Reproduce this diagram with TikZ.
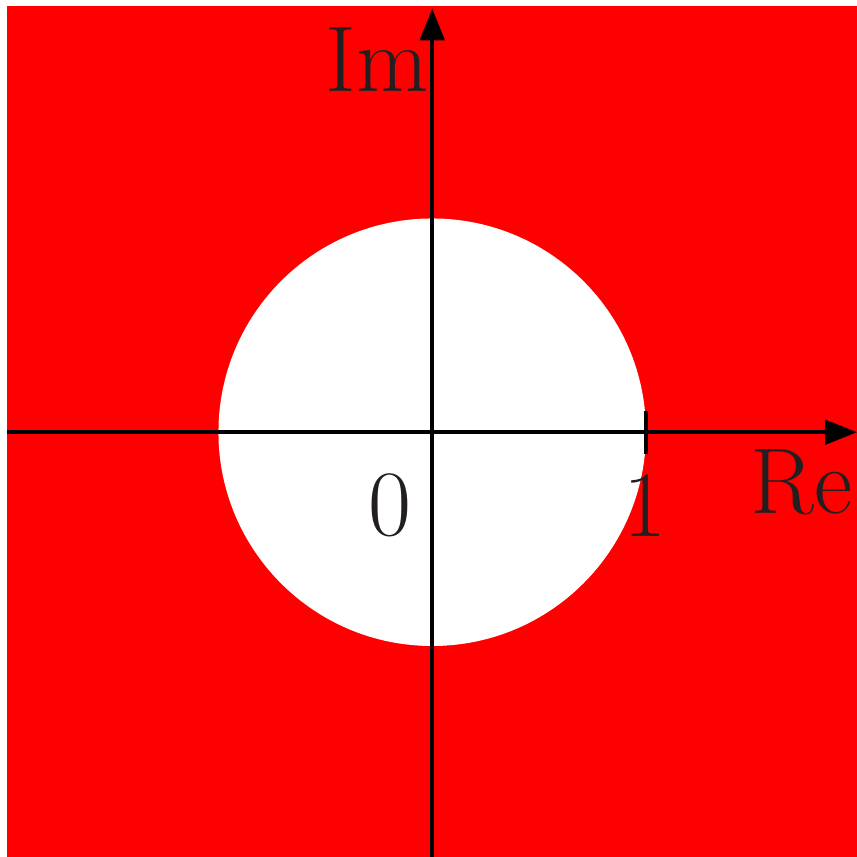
\documentclass[tikz,border=0pt]{standalone}
\usepackage{xcolor}
\usepackage{tikz}
\usetikzlibrary{arrows.meta}
\definecolor{regionc}{HTML}{FF0000}
\definecolor{labelc}{HTML}{231F20}

\begin{document}
\begin{tikzpicture}[x=2cm, y=2cm,
    axis/.style={line width=1.1pt, -{Triangle[length=8.5pt, width=6.5pt]}},
    lbl/.style={text=labelc, font=\fontsize{25}{30}\selectfont, inner sep=0pt}]
  \useasboundingbox (-2.03,-1.995) rectangle (1.995,2.03);
  \fill[regionc] (-1.995,-1.995) rectangle (1.995,2.0);
  \fill[white] (0,0) circle (1.004);
  \coordinate (west) at (-1.995,0);
  \coordinate (east) at (1.995,0);
  \coordinate (south) at (0,-1.995);
  \coordinate (north) at (0,1.99);
  \draw[axis] (west) -- (east);
  \draw[axis] (south) -- (north);
  \draw[line width=1.1pt] (1.004,-0.1) -- (1.004,0.1);
  \node[lbl, anchor=east] (im) at (-0.015,1.75) {Im};
  \node[lbl, anchor=east] (re) at (1.975,-0.235) {Re};
  \node[lbl] (zero) at (-0.2,-0.345) {0};
  \node[lbl] (one) at (1.0,-0.345) {1};
\end{tikzpicture}
\end{document}
